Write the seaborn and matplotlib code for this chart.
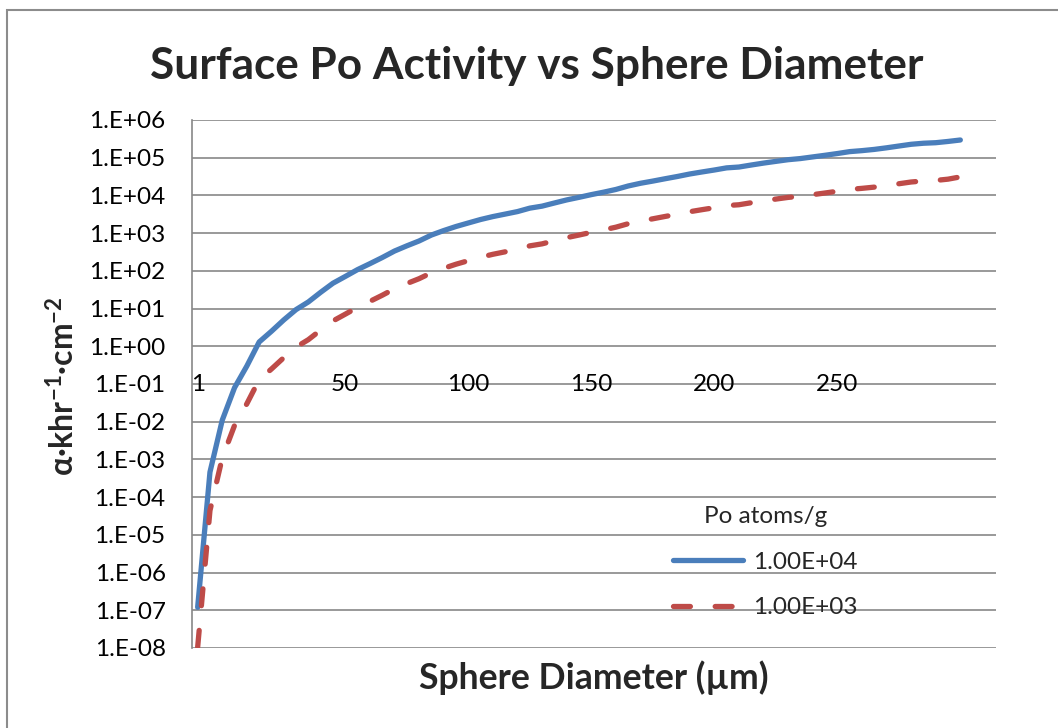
import numpy as np
import pandas as pd
import matplotlib
matplotlib.use("Agg")
import matplotlib.pyplot as plt
import seaborn as sns
from matplotlib.patches import Rectangle
from matplotlib.ticker import NullLocator

# ---------------- data ----------------
diameters = [1, 2, 3, 5, 10, 15, 20, 25, 30, 35, 40, 45, 50, 55, 60, 65, 70, 75,
             80, 85, 90, 95, 100, 105, 110, 115, 120, 125, 130, 135, 140, 145,
             150, 155, 160, 165, 170, 175, 180, 185, 190, 195, 200, 205, 210,
             215, 220, 225, 230, 235, 240, 245, 250, 255, 260, 265, 270, 275,
             280, 285, 290, 295, 300]

activity_1e4 = [1.2e-7, 4.6e-4, 1.1e-2, 8.0e-2, 0.30, 1.3, 2.5, 5.0, 9.4, 15,
                27, 47, 71, 108, 155, 225, 335, 460, 620, 890,
                1170, 1500, 1860, 2300, 2750, 3200, 3730, 4600, 5200, 6300,
                7600, 8900, 10500, 12200, 14400, 17800, 21000, 24000, 27700, 31800,
                37000, 41900, 47200, 53800, 56600, 64000, 72000, 80000, 88600, 95000,
                105000, 116000, 129000, 145000, 154000, 166000, 183000, 204000, 227000, 242000,
                250000, 270000, 295000]

activity_1e3 = [1.05e-8, 4.4e-5, 1.1e-3, 8.0e-3, 0.03, 0.13, 0.25, 0.5, 0.95, 1.5,
                2.7, 4.7, 7.1, 10.8, 15.5, 22.5, 33.5, 46, 62, 89,
                117, 150, 186, 230, 275, 320, 373, 460, 520, 630,
                760, 890, 1050, 1220, 1440, 1780, 2100, 2400, 2770, 3180,
                3700, 4190, 4720, 5380, 5660, 6400, 7200, 8000, 8860, 9500,
                10500, 11600, 12900, 14500, 15400, 16600, 18300, 20400, 22700, 24200,
                25000, 27000, 31000]

series_labels = ["1.00E+04", "1.00E+03"]
legend_title = "Po atoms/g"
x_tick_labels = [1, 50, 100, 150, 200, 250]
y_ticks = [1e-8, 1e-7, 1e-6, 1e-5, 1e-4, 1e-3, 1e-2, 1e-1, 1e0, 1e1, 1e2, 1e3, 1e4, 1e5, 1e6]
y_tick_labels = ["1.E-08", "1.E-07", "1.E-06", "1.E-05", "1.E-04", "1.E-03", "1.E-02",
                 "1.E-01", "1.E+00", "1.E+01", "1.E+02", "1.E+03", "1.E+04", "1.E+05", "1.E+06"]
title = "Surface Po Activity vs Sphere Diameter"
x_label = "Sphere Diameter (\u00b5m)"
y_label = r"α·khr$^{\mathbf{-1}}$·cm$^{\mathbf{-2}}$"

# ---------------- style ----------------
sns.set_theme(style="white")
plt.rcParams["font.family"] = ["Lato", "DejaVu Sans"]
plt.rcParams["mathtext.fontset"] = "custom"
plt.rcParams["mathtext.rm"] = "Lato:bold"
plt.rcParams["mathtext.bf"] = "Lato:bold"
plt.rcParams["mathtext.it"] = "Lato:bold"

BLUE = "#4A7EBB"
RED = "#BE4B48"
GRID = "#878787"
W, H = 1058, 728

fig = plt.figure(figsize=(W / 100, H / 100), dpi=100)
fig.patch.set_facecolor("white")
ax = fig.add_axes([192 / W, 1 - 648 / H, (996 - 192) / W, (648 - 120) / H])

positions = np.arange(len(diameters))
df = pd.DataFrame({"pos": positions, "a4": activity_1e4, "a3": activity_1e3})

sns.lineplot(data=df, x="pos", y="a4", ax=ax, color=BLUE, linewidth=3.8,
             label=series_labels[0], solid_capstyle="round", solid_joinstyle="round")
sns.lineplot(data=df, x="pos", y="a3", ax=ax, color=RED, linewidth=3.8,
             label=series_labels[1], linestyle=(0, (3.2, 4.7)),
             dash_capstyle="round", dash_joinstyle="round")

ax.set_yscale("log")
ax.set_ylim(1e-8, 1e6)
ax.set_xlim(-0.46, 64.9)
ax.set_yticks(y_ticks)
ax.set_yticklabels(y_tick_labels)
ax.yaxis.set_minor_locator(NullLocator())
ax.set_xticks([])
ax.set_xlabel("")
ax.set_ylabel("")
ax.grid(axis="y", color=GRID, linewidth=1.2)
ax.set_axisbelow(True)
for s in ["top", "right", "bottom"]:
    ax.spines[s].set_visible(False)
ax.spines["left"].set_color(GRID)
ax.spines["left"].set_linewidth(1.2)

fig.canvas.draw()
r = fig.canvas.get_renderer()

# tick font size fitted to the reference label width (slightly larger, Lato is wider)
probe = fig.text(0, 0, "1.E+06", fontsize=16)
tw = probe.get_window_extent(r).width
tick_fs = 16 * 76 / tw
probe.remove()

ax.tick_params(axis="y", length=0, pad=19.0, labelsize=tick_fs, labelcolor="black")

for lab in x_tick_labels:
    p = diameters.index(lab)
    ax.annotate(str(lab), xy=(p, 0.1), xytext=(0, -7), textcoords="offset pixels",
                ha="center", va="baseline", fontsize=tick_fs, color="black")

handles, labels = ax.get_legend_handles_labels()
leg = ax.legend(handles, labels, title=legend_title, loc="upper left",
                bbox_to_anchor=(673 / W, 1 - 506 / H), bbox_transform=fig.transFigure,
                frameon=False, borderpad=0, borderaxespad=0, handlelength=2.9,
                handletextpad=0.4, labelspacing=1.02, fontsize=tick_fs,
                title_fontsize=tick_fs)

# title
t = fig.text(537 / W, 1 - 79 / H, title, ha="center", va="baseline",
             fontsize=30, fontweight="bold")
fig.canvas.draw()
t.set_fontsize(30 * 772 / t.get_window_extent(r).width)

# x label
xl = fig.text(593.5 / W, 1 - 689 / H, x_label, ha="center", va="baseline",
              fontsize=20, fontweight="bold")
fig.canvas.draw()
xl.set_fontsize(20 * 350 / xl.get_window_extent(r).width)

# y label
yl = fig.text(63 / W, 1 - 386 / H, y_label, ha="center", va="center",
              rotation=90, fontsize=20, fontweight="bold")
fig.canvas.draw()
yl.set_fontsize(20 * 180 / yl.get_window_extent(r).height)

# chart area border (only left/top visible within the image)
fig.patches.append(Rectangle((7 / W, -0.2), 1.5, 1.2 - 10 / H,
                             transform=fig.transFigure, fill=False,
                             edgecolor="#8c8c8c", linewidth=1.5, clip_on=False))

fig.savefig("out.png", dpi=100, facecolor="white")
